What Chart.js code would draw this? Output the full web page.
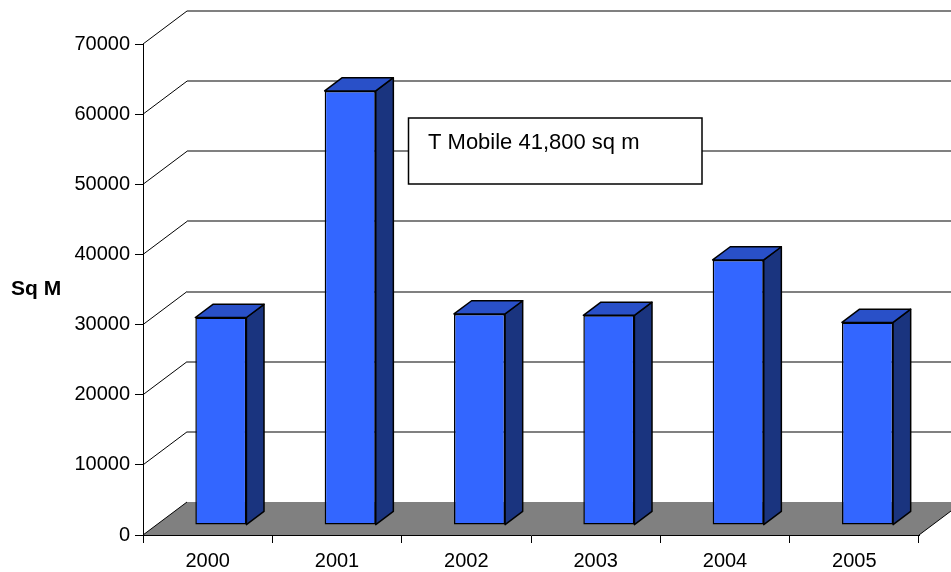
<!DOCTYPE html>
<html>
<head>
<meta charset="utf-8">
<script src="https://cdn.jsdelivr.net/npm/chart.js@4/dist/chart.umd.min.js"></script>
<style>
  html, body { margin: 0; padding: 0; background: #fff; }
  canvas { display: block; }
</style>
</head>
<body>
<canvas id="areaChart" width="951" height="572"></canvas>
<script>
// --- chart data ---
const years = ['2000', '2001', '2002', '2003', '2004', '2005'];
const sqMetres = [29600, 61900, 30100, 29900, 37800, 28900];
const yTicks = [0, 10000, 20000, 30000, 40000, 50000, 60000, 70000];
const axisTitle = 'Sq M';
const noteText = 'T Mobile 41,800 sq m';

// 3D look: depth of the box and where the bars sit inside it
const DEPTH_X = 44, DEPTH_Y = 33;
const BAR_FRONT = 0.3, BAR_BACK = 0.7;
const FONT = '"Liberation Sans", Arial, sans-serif';

const threeD = {
    id: 'threeD',
    // floor, back wall grid and the side diagonals
    beforeDraw(chart) {
        const { ctx, chartArea: a, scales: { y } } = chart;
        ctx.save();
        // back wall grid lines
        ctx.strokeStyle = '#808080';
        ctx.lineWidth = 2;
        yTicks.forEach(v => {
            if (v === 0) return;
            const py = Math.round(y.getPixelForValue(v) - DEPTH_Y);
            ctx.beginPath();
            ctx.moveTo(a.left + DEPTH_X, py);
            ctx.lineTo(chart.width, py);
            ctx.stroke();
        });
        // floor
        const b = y.getPixelForValue(0);
        ctx.beginPath();
        ctx.moveTo(a.left, b);
        ctx.lineTo(a.right, b);
        ctx.lineTo(a.right + DEPTH_X, b - DEPTH_Y);
        ctx.lineTo(a.left + DEPTH_X, b - DEPTH_Y);
        ctx.closePath();
        ctx.fillStyle = '#808080';
        ctx.fill();
        ctx.strokeStyle = '#000';
        ctx.lineWidth = 1;
        ctx.beginPath();
        ctx.moveTo(a.right, b);
        ctx.lineTo(a.right + DEPTH_X, b - DEPTH_Y);
        ctx.stroke();
        // diagonals on the left wall
        yTicks.forEach(v => {
            const py = y.getPixelForValue(v);
            ctx.beginPath();
            ctx.moveTo(a.left, py);
            ctx.lineTo(a.left + DEPTH_X, py - DEPTH_Y);
            ctx.stroke();
        });
        // axis title
        ctx.fillStyle = '#000';
        ctx.font = 'bold 21px ' + FONT;
        ctx.textAlign = 'left';
        ctx.textBaseline = 'middle';
        ctx.fillText(axisTitle, 11, (a.top + a.bottom) / 2);
        ctx.restore();
    },
    // shift the front faces back into the box
    beforeDatasetsDraw(chart) {
        chart.ctx.save();
        chart.ctx.translate(DEPTH_X * BAR_FRONT, -DEPTH_Y * BAR_FRONT);
    },
    afterDatasetsDraw(chart) {
        const ctx = chart.ctx;
        ctx.restore();
        const fx = DEPTH_X * BAR_FRONT, fy = DEPTH_Y * BAR_FRONT;
        const dx = DEPTH_X * (BAR_BACK - BAR_FRONT), dy = DEPTH_Y * (BAR_BACK - BAR_FRONT);
        ctx.save();
        ctx.strokeStyle = '#000';
        ctx.lineWidth = 1.5;
        ctx.lineJoin = 'round';
        chart.getDatasetMeta(0).data.forEach(bar => {
            const p = bar.getProps(['x', 'y', 'base', 'width'], true);
            const l = p.x - p.width / 2 + fx, r = p.x + p.width / 2 + fx;
            const t = p.y - fy, bt = p.base - fy;
            // side
            ctx.beginPath();
            ctx.moveTo(r, t);
            ctx.lineTo(r + dx, t - dy);
            ctx.lineTo(r + dx, bt - dy);
            ctx.lineTo(r, bt);
            ctx.closePath();
            ctx.fillStyle = '#1a347f';
            ctx.fill();
            ctx.stroke();
            // top
            ctx.beginPath();
            ctx.moveTo(l, t);
            ctx.lineTo(l + dx, t - dy);
            ctx.lineTo(r + dx, t - dy);
            ctx.lineTo(r, t);
            ctx.closePath();
            ctx.fillStyle = '#2950c8';
            ctx.fill();
            ctx.stroke();
        });
        ctx.restore();
    },
    // note box
    afterDraw(chart) {
        const ctx = chart.ctx;
        ctx.save();
        ctx.fillStyle = '#fff';
        ctx.strokeStyle = '#000';
        ctx.lineWidth = 1.5;
        ctx.fillRect(408.5, 118, 293.5, 66);
        ctx.strokeRect(408.5, 118, 293.5, 66);
        ctx.fillStyle = '#000';
        ctx.font = '22px ' + FONT;
        ctx.textAlign = 'left';
        ctx.textBaseline = 'alphabetic';
        ctx.fillText(noteText, 428, 148.5);
        ctx.restore();
    }
};

new Chart(document.getElementById('areaChart'), {
    type: 'bar',
    data: {
        labels: years,
        datasets: [{
            data: sqMetres,
            backgroundColor: '#3366ff',
            borderColor: '#000',
            borderWidth: 1.5,
            borderSkipped: false,
            categoryPercentage: 1,
            barPercentage: 0.395
        }]
    },
    options: {
        responsive: false,
        animation: false,
        layout: { padding: { top: 44, right: 32, left: 0, bottom: 0 } },
        plugins: {
            legend: { display: false },
            tooltip: { enabled: false }
        },
        scales: {
            x: {
                offset: true,
                grid: { offset: true, drawOnChartArea: false, tickLength: 8, color: '#000' },
                border: { color: '#000' },
                ticks: { color: '#000', padding: 6, font: { family: FONT, size: 20 } },
                afterFit: s => { s.height = 37; }
            },
            y: {
                min: 0,
                max: 70000,
                ticks: {
                    stepSize: 10000,
                    color: '#000',
                    padding: 5,
                    font: { family: FONT, size: 20 },
                    callback: v => String(v)
                },
                grid: { drawOnChartArea: false, tickLength: 8, color: '#000' },
                border: { color: '#000' },
                afterFit: s => { s.width = 143; }
            }
        }
    },
    plugins: [threeD]
});
</script>
</body>
</html>
